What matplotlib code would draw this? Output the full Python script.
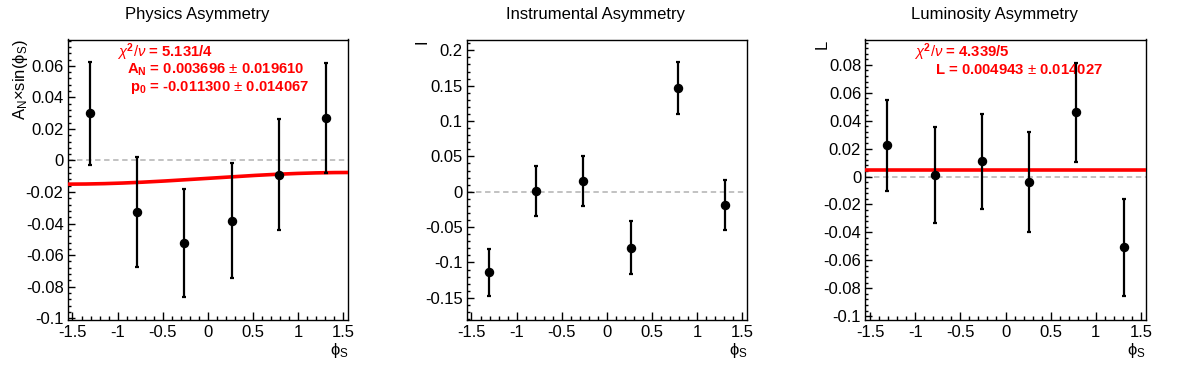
import numpy as np
import matplotlib
matplotlib.use("Agg")
import matplotlib.pyplot as plt
from matplotlib.ticker import MultipleLocator, FuncFormatter

plt.rcParams['font.family'] = ['Liberation Sans', 'DejaVu Sans']
plt.rcParams['mathtext.fontset'] = 'custom'
plt.rcParams['mathtext.rm'] = 'Liberation Sans'
plt.rcParams['mathtext.it'] = 'Liberation Sans:italic'
plt.rcParams['mathtext.bf'] = 'Liberation Sans:bold'
plt.rcParams['mathtext.sf'] = 'Liberation Sans'
plt.rcParams['mathtext.fallback'] = 'stixsans'
plt.rcParams['axes.unicode_minus'] = False

# ---- data ----
phi_bins = [-1.309, -0.785, -0.262, 0.262, 0.785, 1.309]

phys_vals = [0.0298, -0.0329, -0.0523, -0.0382, -0.0089, 0.0269]
phys_errs = [0.0325, 0.0348, 0.0343, 0.0363, 0.0354, 0.0349]

inst_vals = [-0.1142, 0.0008, 0.0153, -0.0792, 0.1466, -0.0185]
inst_errs = [0.0332, 0.0351, 0.0349, 0.0372, 0.0369, 0.0353]

lumi_vals = [0.0224, 0.0010, 0.0108, -0.0041, 0.0461, -0.0506]
lumi_errs = [0.0324, 0.0343, 0.0340, 0.0358, 0.0355, 0.0347]

fit_AN = 0.003696
fit_p0 = -0.011300
fit_L = 0.004943

titles = ["Physics Asymmetry", "Instrumental Asymmetry", "Luminosity Asymmetry"]
ylabels = [r"A$_{\mathrm{N}}$$\times$sin($\mathrm{\phi}_{\mathrm{S}}$)", "I", "L"]

fig = plt.figure(figsize=(11.96, 3.72), dpi=100)

W, H = 1196.0, 372.0
lefts = [67.7, 466.7, 865.3]
ax_w = 280.7
ax_top = 39.5
ax_bot = 319.5
ylims = [(-0.1008, 0.0767), (-0.1807, 0.2153), (-0.1024, 0.0982)]
ymajor = [0.02, 0.05, 0.02]
yminor = [0.004, 0.01, 0.004]
ylab_off = [42.7, 40.0, 39.0]
title_x = [197.5, 596.0, 995.0]

fmt = FuncFormatter(lambda v, p: ("%g" % round(v, 6)) if abs(v) > 1e-9 else "0")

series = [(phys_vals, phys_errs), (inst_vals, inst_errs), (lumi_vals, lumi_errs)]
xlim = (-1.553, 1.556)

for i in range(3):
    ax = fig.add_axes([lefts[i] / W, 1 - ax_bot / H, ax_w / W, (ax_bot - ax_top) / H])
    ax.set_xlim(*xlim)
    ax.set_ylim(*ylims[i])
    ax.axhline(0, color='#bdbdbd', lw=1.3, ls=(0, (3, 2)), zorder=1)

    vals, errs = series[i]
    ax.errorbar(phi_bins, vals, yerr=errs, fmt='o', color='black', ms=5.8,
                elinewidth=1.6, capsize=1.3, capthick=1.6, zorder=4)

    xs = np.linspace(xlim[0], xlim[1], 200)
    if i == 0:
        ax.plot(xs, fit_p0 + fit_AN * np.sin(xs), color='red', lw=2.6, zorder=3)
    elif i == 2:
        ax.plot(xs, np.full_like(xs, fit_L), color='red', lw=2.6, zorder=3)

    ax.xaxis.set_major_locator(MultipleLocator(0.5))
    ax.xaxis.set_minor_locator(MultipleLocator(0.1))
    ax.yaxis.set_major_locator(MultipleLocator(ymajor[i]))
    ax.yaxis.set_minor_locator(MultipleLocator(yminor[i]))
    ax.xaxis.set_major_formatter(fmt)
    ax.yaxis.set_major_formatter(fmt)
    ax.tick_params(axis='both', which='both', direction='in', top=False, right=False,
                   labelsize=12, width=1.0, color='black')
    ax.tick_params(axis='x', which='major', length=6, pad=4)
    ax.tick_params(axis='x', which='minor', length=3)
    ax.tick_params(axis='y', which='major', length=4.8, pad=3)
    ax.tick_params(axis='y', which='minor', length=2.4)
    for s in ax.spines.values():
        s.set_linewidth(1.0)

    # y label at top-left
    ax.text(-ylab_off[i] / ax_w, 1.0, ylabels[i], transform=ax.transAxes,
            rotation=90, rotation_mode='anchor', ha='right', va='baseline', fontsize=12)
    # x label at bottom-right
    ax.text(1.0, -36.0 / (ax_bot - ax_top), r"$\mathrm{\phi}_{\mathrm{S}}$", transform=ax.transAxes,
            ha='right', va='baseline', fontsize=12)

    fig.text(title_x[i] / W, 1 - 14.5 / H, titles[i], ha='center', va='center', fontsize=12)

    if i == 0:
        ax.text((116.7 - lefts[0]) / ax_w, 1 - (52.3 - ax_top) / (ax_bot - ax_top),
                r"$\chi^{\mathbf{2}}/\nu$ = 5.131/4", transform=ax.transAxes, color='red',
                fontsize=10.7, fontweight='bold', ha='left', va='center')
        ax.text((127.3 - lefts[0]) / ax_w, 1 - (69.5 - ax_top) / (ax_bot - ax_top),
                r"A$_{\mathbf{N}}$ = 0.003696 $\pm$ 0.019610", transform=ax.transAxes, color='red',
                fontsize=10.7, fontweight='bold', ha='left', va='center')
        ax.text((130.0 - lefts[0]) / ax_w, 1 - (87.3 - ax_top) / (ax_bot - ax_top),
                r"p$_{\mathbf{0}}$ = -0.011300 $\pm$ 0.014067", transform=ax.transAxes, color='red',
                fontsize=10.7, fontweight='bold', ha='left', va='center')
    elif i == 2:
        ax.text((914.3 - lefts[2]) / ax_w, 1 - (52.3 - ax_top) / (ax_bot - ax_top),
                r"$\chi^{\mathbf{2}}/\nu$ = 4.339/5", transform=ax.transAxes, color='red',
                fontsize=10.7, fontweight='bold', ha='left', va='center')
        ax.text((935.3 - lefts[2]) / ax_w, 1 - (69.7 - ax_top) / (ax_bot - ax_top),
                r"L = 0.004943 $\pm$ 0.014027", transform=ax.transAxes, color='red',
                fontsize=10.7, fontweight='bold', ha='left', va='center')

fig.savefig("out.png", dpi=100)
